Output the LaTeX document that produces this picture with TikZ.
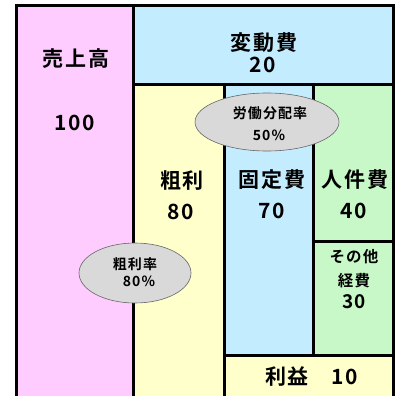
\documentclass[tikz,border=0pt]{standalone}
\usepackage{fontspec}
\setmainfont{Noto Sans CJK JP}[BoldFont={Noto Sans CJK JP Bold}]
\newfontfamily\jpb{Noto Sans CJK JP Bold}[LetterSpace=8]
\usetikzlibrary{shapes.geometric}
\definecolor{cpink}{HTML}{FFCCFF}
\definecolor{cblue}{HTML}{C4ECFF}
\definecolor{cyel}{HTML}{FFFFCC}
\definecolor{cgreen}{HTML}{C8F8C8}
\definecolor{cgray}{HTML}{D9D9D9}
\begin{document}
\begin{tikzpicture}[x=1pt,y=-1pt,
  box/.style={draw=black,line width=3pt},
  big/.style={font=\jpb\fontsize{21}{23}\selectfont,inner sep=0pt,align=center},
  num/.style={font=\jpb\fontsize{21}{23}\selectfont,inner sep=0pt},
  small/.style={font=\jpb\fontsize{15.5}{18}\selectfont,inner sep=0pt,align=center},
  etext/.style={font=\jpb\fontsize{14}{16}\selectfont,inner sep=0pt},
  tag/.style={ellipse,draw=black!60,line width=0.6pt,fill=cgray,inner sep=0pt}]
\useasboundingbox (0,0) rectangle (396,396);
\clip (0,0) rectangle (396,396);
\fill[white] (0,0) rectangle (396,396);
% boxes
\draw[box,fill=cpink] (16,6) rectangle (133,420);
\draw[box,fill=cblue] (133,6) rectangle (393,84);
\draw[box,fill=cyel] (133,84) rectangle (224,420);
\draw[box,fill=cblue] (224,84) rectangle (313,355);
\draw[box,fill=cgreen] (313,84) rectangle (393,241);
\draw[box,fill=cgreen] (313,241) rectangle (393,355);
\draw[box,fill=cyel] (224,355) rectangle (393,420);
% texts
\node[big] (uri) at (76,59) {売上高};
\node[num] (uri100) at (75,123) {100};
\node[big] (hen) at (264,43) {変動費};
\node[num] (hen20) at (263,65) {20};
\node[big] (ara) at (182,181) {粗利};
\node[num] (ara80) at (181,212) {80};
\node[big] (kot) at (272,180) {固定費};
\node[num] (kot70) at (272,211) {70};
\node[big] (jin) at (355,180) {人件費};
\node[num] (jin40) at (354,211) {40};
\node[small] (sono) at (354,257) {その他};
\node[small] (kei) at (354,281) {経費};
\node[num,font=\jpb\fontsize{19}{21}\selectfont] (kei30) at (354,302) {30};
\node[big] (rie) at (287,377) {利益};
\node[num] (rie10) at (345,377) {10};
% ellipses
\node[tag,minimum width=144pt,minimum height=58pt] (rodo) at (267,122) {};
\node[etext] (rodot) at (270,113) {労働分配率};
\node[etext] (rodop) at (269,135) {50\%};
\node[tag,minimum width=112pt,minimum height=60pt] (arar) at (135,273) {};
\node[etext] (arart) at (135,264) {粗利率};
\node[etext] (ararp) at (139,281) {80\%};
\end{tikzpicture}
\end{document}
